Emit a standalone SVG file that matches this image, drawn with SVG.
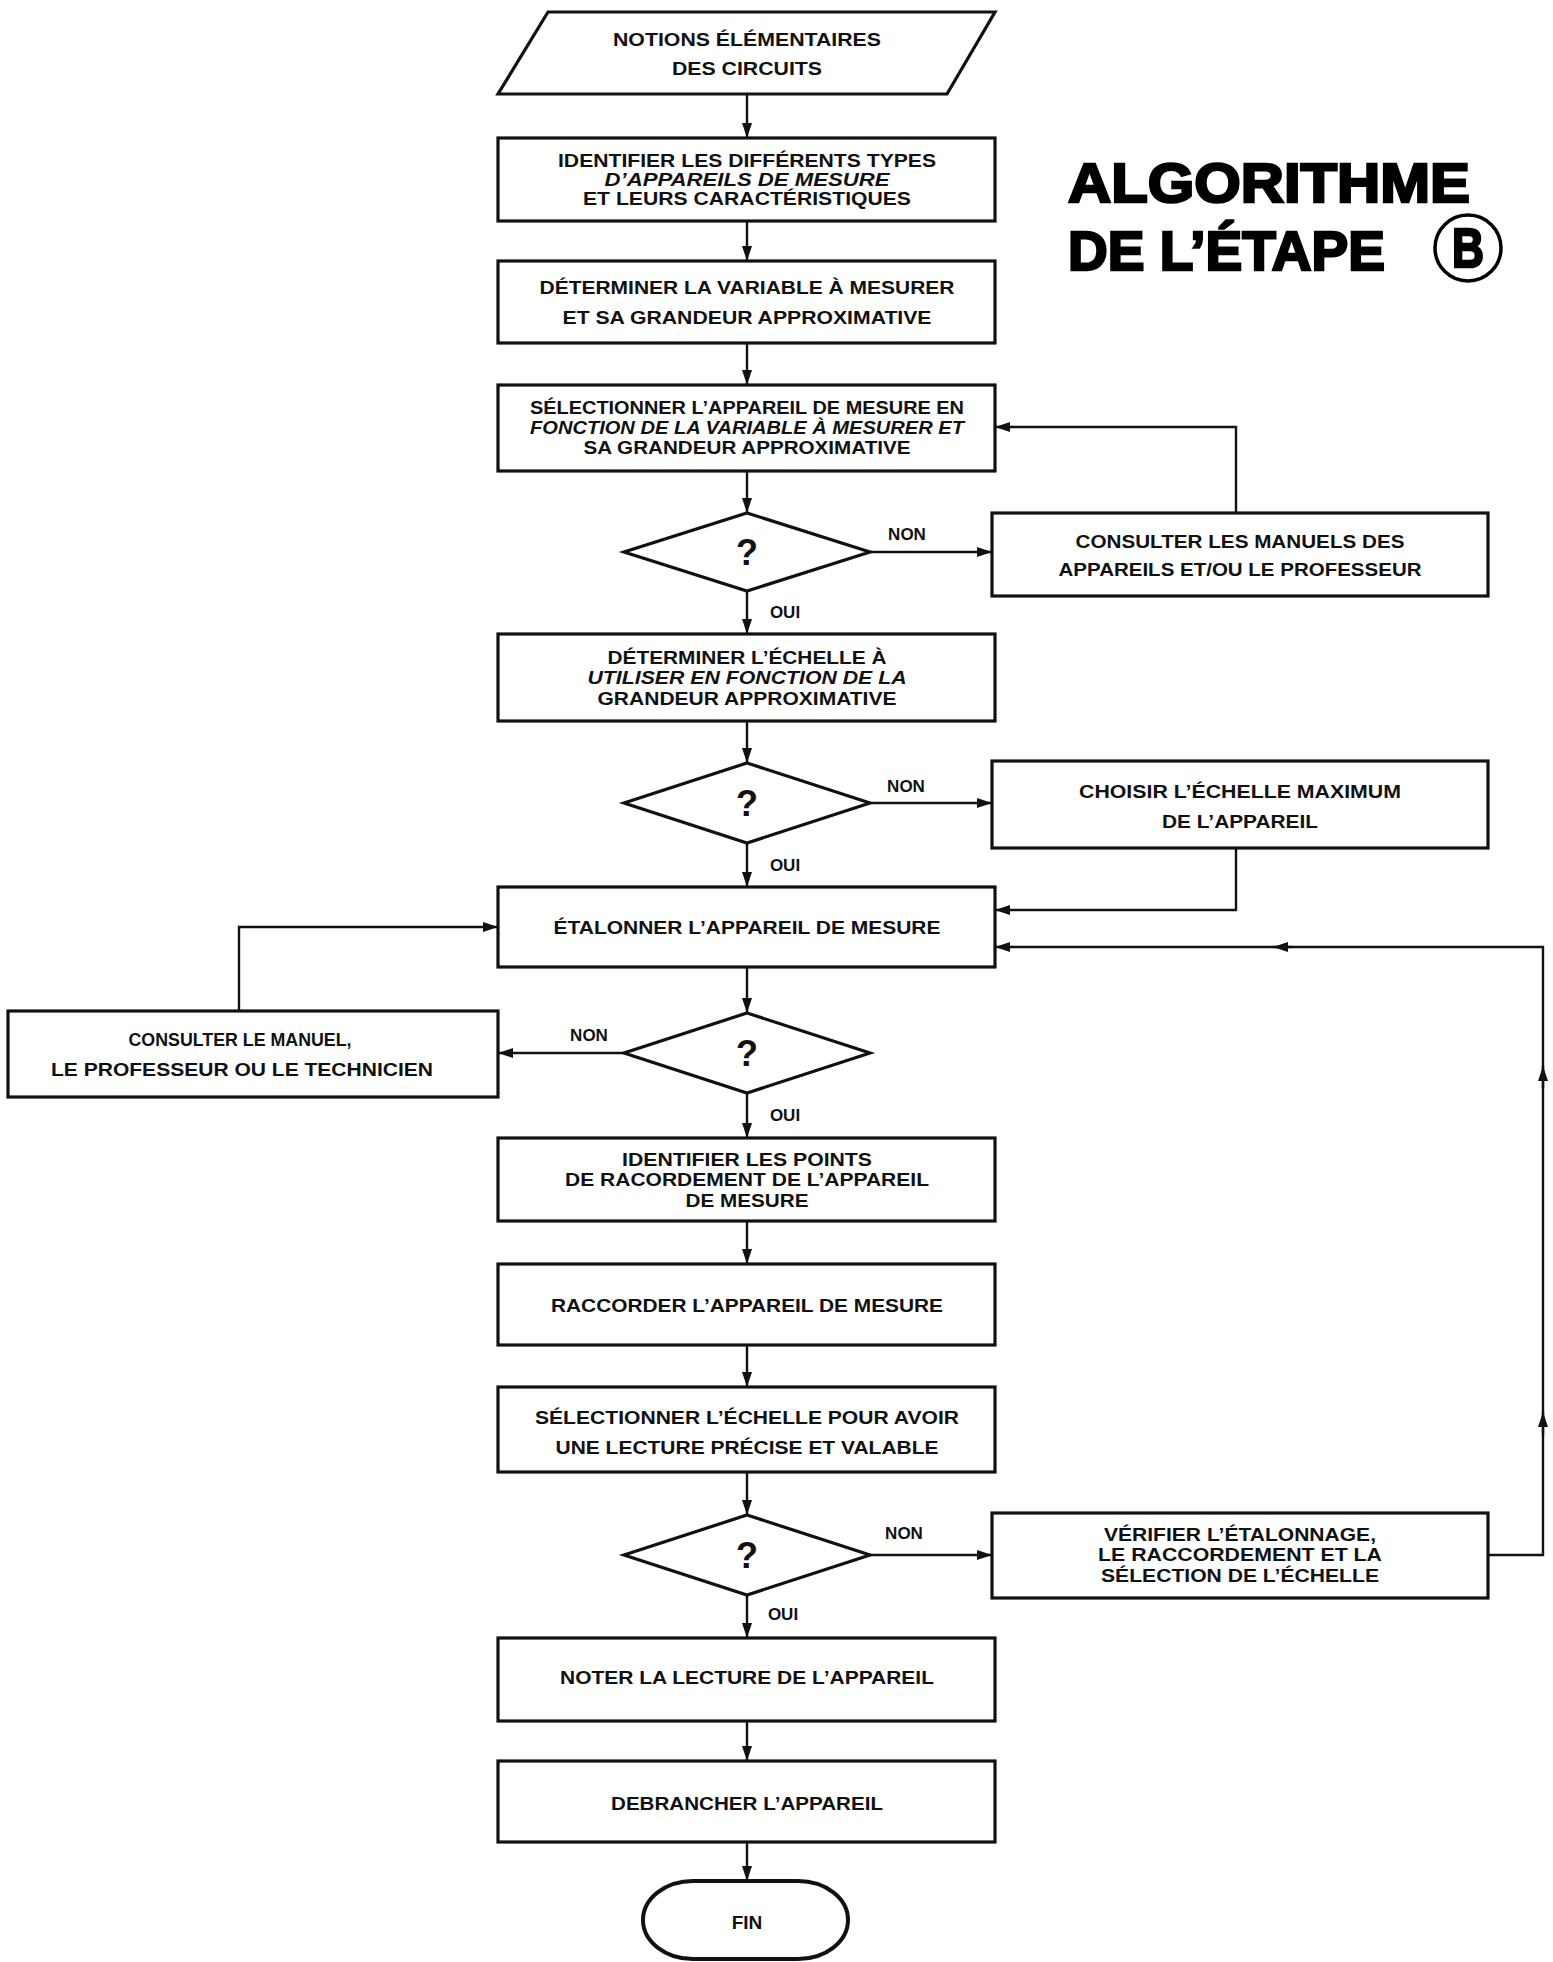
<svg xmlns="http://www.w3.org/2000/svg" width="1553" height="1962" viewBox="0 0 1553 1962">
<defs>
<style>
.sh{fill:#fff;stroke:#111;stroke-width:3.2}
.t{font-family:"Liberation Sans",Arial,sans-serif;font-weight:bold;font-size:19px;text-anchor:middle;fill:#111}
.q{font-family:"Liberation Sans",Arial,sans-serif;font-weight:bold;font-size:36px;text-anchor:middle;fill:#111}
.l{font-family:"Liberation Sans",Arial,sans-serif;font-weight:bold;font-size:17px;text-anchor:middle;fill:#111}
.c{fill:none;stroke:#111;stroke-width:2.4}
.ttl{font-family:"Liberation Sans",Arial,sans-serif;font-weight:bold;font-size:56px;fill:#000;stroke:#000;stroke-width:2.5}
</style>
<marker id="ah" viewBox="0 0 15 10" refX="15" refY="5" markerWidth="15" markerHeight="10" orient="auto" markerUnits="userSpaceOnUse"><path d="M0,0 L15,5 L0,10 z" fill="#111"/></marker>
</defs>
<rect width="1553" height="1962" fill="#fff"/>

<g id="title">
<text class="ttl" x="1068" y="202" textLength="402" lengthAdjust="spacingAndGlyphs">ALGORITHME</text>
<text class="ttl" x="1068" y="270" textLength="317" lengthAdjust="spacingAndGlyphs">DE L’ÉTAPE</text>
<circle cx="1468" cy="248" r="33" fill="none" stroke="#000" stroke-width="3.5"/>
<text class="ttl" x="1468" y="267" text-anchor="middle" font-size="52" textLength="32" lengthAdjust="spacingAndGlyphs">B</text>
</g>

<g id="connectors">
<path class="c" marker-end="url(#ah)" d="M747,94 V138"/>
<path class="c" marker-end="url(#ah)" d="M747,221 V261"/>
<path class="c" marker-end="url(#ah)" d="M747,343 V385"/>
<path class="c" marker-end="url(#ah)" d="M747,471 V513"/>
<path class="c" marker-end="url(#ah)" d="M870,552 H992"/>
<path class="c" marker-end="url(#ah)" d="M1236,513 V427 H995"/>
<path class="c" marker-end="url(#ah)" d="M747,591 V634"/>
<path class="c" marker-end="url(#ah)" d="M747,721 V763"/>
<path class="c" marker-end="url(#ah)" d="M870,803 H992"/>
<path class="c" marker-end="url(#ah)" d="M1236,848 V910 H995"/>
<path class="c" marker-end="url(#ah)" d="M747,843 V887"/>
<path class="c" marker-end="url(#ah)" d="M747,967 V1013"/>
<path class="c" marker-end="url(#ah)" d="M624,1053 H498"/>
<path class="c" marker-end="url(#ah)" d="M239,1011 V927 H498"/>
<path class="c" marker-end="url(#ah)" d="M747,1093 V1138"/>
<path class="c" marker-end="url(#ah)" d="M747,1221 V1264"/>
<path class="c" marker-end="url(#ah)" d="M747,1345 V1387"/>
<path class="c" marker-end="url(#ah)" d="M747,1472 V1515"/>
<path class="c" marker-end="url(#ah)" d="M870,1555 H992"/>
<path class="c" marker-end="url(#ah)" d="M1488,1555 H1543 V947 H995"/>
<path class="c" marker-end="url(#ah)" d="M1543,1435 V1412"/>
<path class="c" marker-end="url(#ah)" d="M1543,1088 V1066"/>
<path class="c" marker-end="url(#ah)" d="M1292,947 H1273"/>
<path class="c" marker-end="url(#ah)" d="M747,1595 V1638"/>
<path class="c" marker-end="url(#ah)" d="M747,1721 V1761"/>
<path class="c" marker-end="url(#ah)" d="M747,1842 V1881"/>
<text class="l" x="907" y="540">NON</text>
<text class="l" x="785" y="618">OUI</text>
<text class="l" x="906" y="792">NON</text>
<text class="l" x="785" y="871">OUI</text>
<text class="l" x="589" y="1041">NON</text>
<text class="l" x="785" y="1121">OUI</text>
<text class="l" x="904" y="1539">NON</text>
<text class="l" x="783" y="1620">OUI</text>
</g>

<g id="n-notions">
<polygon class="sh" points="548,12 995,12 947,94 498,94"/>
<text class="t" x="747" y="46" font-size="20" textLength="268" lengthAdjust="spacingAndGlyphs">NOTIONS ÉLÉMENTAIRES</text>
<text class="t" x="747" y="75" font-size="20" textLength="150" lengthAdjust="spacingAndGlyphs">DES CIRCUITS</text>
</g>

<g id="n-identifier-types">
<rect class="sh" x="498" y="138" width="497" height="83"/>
<text class="t" x="747" y="167" textLength="378" lengthAdjust="spacingAndGlyphs">IDENTIFIER LES DIFFÉRENTS TYPES</text>
<text class="t" x="747" y="186" font-style="italic" textLength="285" lengthAdjust="spacingAndGlyphs">D’APPAREILS DE MESURE</text>
<text class="t" x="747" y="205" textLength="328" lengthAdjust="spacingAndGlyphs">ET LEURS CARACTÉRISTIQUES</text>
</g>

<g id="n-determiner-variable">
<rect class="sh" x="498" y="261" width="497" height="82"/>
<text class="t" x="747" y="294" font-size="20" textLength="415" lengthAdjust="spacingAndGlyphs">DÉTERMINER LA VARIABLE À MESURER</text>
<text class="t" x="747" y="324" font-size="20" textLength="369" lengthAdjust="spacingAndGlyphs">ET SA GRANDEUR APPROXIMATIVE</text>
</g>

<g id="n-selectionner-appareil">
<rect class="sh" x="498" y="385" width="497" height="86"/>
<text class="t" x="747" y="414" textLength="434" lengthAdjust="spacingAndGlyphs">SÉLECTIONNER L’APPAREIL DE MESURE EN</text>
<text class="t" x="747" y="434" font-style="italic" textLength="434" lengthAdjust="spacingAndGlyphs">FONCTION DE LA VARIABLE À MESURER ET</text>
<text class="t" x="747" y="454" textLength="327" lengthAdjust="spacingAndGlyphs">SA GRANDEUR APPROXIMATIVE</text>
</g>

<g id="n-q1">
<polygon class="sh" points="747,513 870,552 747,591 624,552"/>
<text class="q" x="747" y="565">?</text>
</g>

<g id="n-consulter-manuels">
<rect class="sh" x="992" y="513" width="496" height="83"/>
<text class="t" x="1240" y="548" textLength="329" lengthAdjust="spacingAndGlyphs">CONSULTER LES MANUELS DES</text>
<text class="t" x="1240" y="576" textLength="363" lengthAdjust="spacingAndGlyphs">APPAREILS ET/OU LE PROFESSEUR</text>
</g>

<g id="n-determiner-echelle">
<rect class="sh" x="498" y="634" width="497" height="87"/>
<text class="t" x="747" y="664" textLength="279" lengthAdjust="spacingAndGlyphs">DÉTERMINER L’ÉCHELLE À</text>
<text class="t" x="747" y="684" font-style="italic" textLength="319" lengthAdjust="spacingAndGlyphs">UTILISER EN FONCTION DE LA</text>
<text class="t" x="747" y="705" textLength="299" lengthAdjust="spacingAndGlyphs">GRANDEUR APPROXIMATIVE</text>
</g>

<g id="n-q2">
<polygon class="sh" points="747,763 870,803 747,843 624,803"/>
<text class="q" x="747" y="816">?</text>
</g>

<g id="n-choisir">
<rect class="sh" x="992" y="761" width="496" height="87"/>
<text class="t" x="1240" y="798" textLength="322" lengthAdjust="spacingAndGlyphs">CHOISIR L’ÉCHELLE MAXIMUM</text>
<text class="t" x="1240" y="828" textLength="156" lengthAdjust="spacingAndGlyphs">DE L’APPAREIL</text>
</g>

<g id="n-etalonner">
<rect class="sh" x="498" y="887" width="497" height="80"/>
<text class="t" x="747" y="934" textLength="387" lengthAdjust="spacingAndGlyphs">ÉTALONNER L’APPAREIL DE MESURE</text>
</g>

<g id="n-q3">
<polygon class="sh" points="747,1013 870,1053 747,1093 624,1053"/>
<text class="q" x="747" y="1066">?</text>
</g>

<g id="n-consulter-manuel">
<rect class="sh" x="8" y="1011" width="490" height="86"/>
<text class="t" x="240" y="1046" textLength="223" lengthAdjust="spacingAndGlyphs">CONSULTER LE MANUEL,</text>
<text class="t" x="242" y="1076" textLength="382" lengthAdjust="spacingAndGlyphs">LE PROFESSEUR OU LE TECHNICIEN</text>
</g>

<g id="n-identifier-points">
<rect class="sh" x="498" y="1138" width="497" height="83"/>
<text class="t" x="747" y="1166" textLength="250" lengthAdjust="spacingAndGlyphs">IDENTIFIER LES POINTS</text>
<text class="t" x="747" y="1186" textLength="364" lengthAdjust="spacingAndGlyphs">DE RACORDEMENT DE L’APPAREIL</text>
<text class="t" x="747" y="1207" textLength="123" lengthAdjust="spacingAndGlyphs">DE MESURE</text>
</g>

<g id="n-raccorder">
<rect class="sh" x="498" y="1264" width="497" height="81"/>
<text class="t" x="747" y="1312" textLength="392" lengthAdjust="spacingAndGlyphs">RACCORDER L’APPAREIL DE MESURE</text>
</g>

<g id="n-selectionner-echelle">
<rect class="sh" x="498" y="1387" width="497" height="85"/>
<text class="t" x="747" y="1424" textLength="424" lengthAdjust="spacingAndGlyphs">SÉLECTIONNER L’ÉCHELLE POUR AVOIR</text>
<text class="t" x="747" y="1454" textLength="383" lengthAdjust="spacingAndGlyphs">UNE LECTURE PRÉCISE ET VALABLE</text>
</g>

<g id="n-q4">
<polygon class="sh" points="747,1515 870,1555 747,1595 624,1555"/>
<text class="q" x="747" y="1568">?</text>
</g>

<g id="n-verifier">
<rect class="sh" x="992" y="1513" width="496" height="85"/>
<text class="t" x="1240" y="1541" textLength="272" lengthAdjust="spacingAndGlyphs">VÉRIFIER L’ÉTALONNAGE,</text>
<text class="t" x="1240" y="1561" textLength="284" lengthAdjust="spacingAndGlyphs">LE RACCORDEMENT ET LA</text>
<text class="t" x="1240" y="1582" textLength="278" lengthAdjust="spacingAndGlyphs">SÉLECTION DE L’ÉCHELLE</text>
</g>

<g id="n-noter">
<rect class="sh" x="498" y="1638" width="497" height="83"/>
<text class="t" x="747" y="1684" textLength="374" lengthAdjust="spacingAndGlyphs">NOTER LA LECTURE DE L’APPAREIL</text>
</g>

<g id="n-debrancher">
<rect class="sh" x="498" y="1761" width="497" height="81"/>
<text class="t" x="747" y="1810" textLength="272" lengthAdjust="spacingAndGlyphs">DEBRANCHER L’APPAREIL</text>
</g>

<g id="n-fin">
<rect x="643" y="1881" width="205" height="78" rx="50" ry="39" fill="#fff" stroke="#111" stroke-width="4"/>
<text class="t" x="747" y="1929">FIN</text>
</g>
</svg>
